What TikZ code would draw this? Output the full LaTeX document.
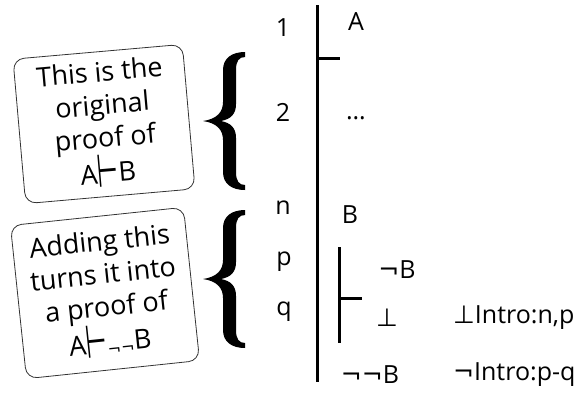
\documentclass[tikz,border=0pt]{standalone}
\usepackage{fontspec}
\setmainfont{Open Sans}
\newfontfamily\symf{DejaVu Sans}
\usepackage{graphicx}
\begin{document}
\begin{tikzpicture}[x=1pt,y=-1pt,
  note/.style={draw=black!80, line width=0.8pt, rounded corners=11pt, align=center,
    inner sep=0pt, font=\fontsize{27}{33}\selectfont},
  lab/.style={font=\fontsize{25}{28}\selectfont, inner sep=0pt},
  bar/.style={line width=3pt},
  bracefill/.style={fill=black}]
\useasboundingbox (0,0) rectangle (585,392);
\newcommand{\turn}{\raisebox{-4pt}{\scalebox{0.9}[1.7]{\symf ⊢}}}
\newcommand{\bigbrace}{%
  (42,0) -- (42,5) .. controls (36,5) and (33,9) .. (33,18) -- (33,52)
  .. controls (33,62) and (28,67) .. (18,69)
  .. controls (28,71) and (33,76) .. (33,86) -- (33,120)
  .. controls (33,129) and (36,133) .. (42,133) -- (42,138)
  .. controls (29,138) and (20,132) .. (20,120) -- (20,88)
  .. controls (20,78) and (14,71) .. (0,69)
  .. controls (14,67) and (20,60) .. (20,50) -- (20,18)
  .. controls (20,6) and (29,0) .. (42,0) -- cycle}
\node[note, minimum width=170pt, minimum height=145pt, rotate=5] (box1) at (104,124)
  {This is the\\original\\proof of\\A\turn B};
\node[note, minimum width=174pt, minimum height=154pt, rotate=6] (box2) at (105,293)
  {Adding this\\turns it into\\a proof of\\A\turn\raisebox{-3pt}{\symf\fontsize{16}{16}\selectfont ¬¬}B};
% braces
\fill[bracefill, shift={(203,52)}] \bigbrace;
\fill[bracefill, shift={(203,210)}] \bigbrace;
% main proof line
\coordinate (mtop) at (317,5);
\coordinate (mbot) at (317,382);
\coordinate (ht) at (317,58);
\coordinate (hte) at (340,58);
\draw[bar] (mtop) -- (mbot);
\draw[bar] (ht) -- (hte);
% subproof
\coordinate (stop) at (339,247);
\coordinate (sbot) at (339,343);
\coordinate (sh) at (339,298);
\coordinate (she) at (362,298);
\draw[bar] (stop) -- (sbot);
\draw[bar] (sh) -- (she);
% labels
\node[lab] (l1) at (283,28) {1};
\node[lab] (fA) at (356,22) {A};
\node[lab] (l2) at (283,112) {2};
\node[lab] (fdots) at (356,118) {\dots};
\node[lab] (ln) at (283,208) {n};
\node[lab] (fB) at (350,215) {B};
\node[lab] (lp) at (284,262) {p};
\node[lab] (lq) at (284,312) {q};
\node[lab] (fnB) at (397,270) {{\symf ¬}B};
\node[lab] (fbot) at (387,318) {{\symf ⊥}};
\node[lab, anchor=west] (j1) at (453,318) {{\symf ⊥}Intro:n,p};
\node[lab] (fnnB) at (370,375) {{\symf ¬¬}B};
\node[lab, anchor=west] (j2) at (453,375) {{\symf ¬}Intro:p-q};
\end{tikzpicture}
\end{document}
